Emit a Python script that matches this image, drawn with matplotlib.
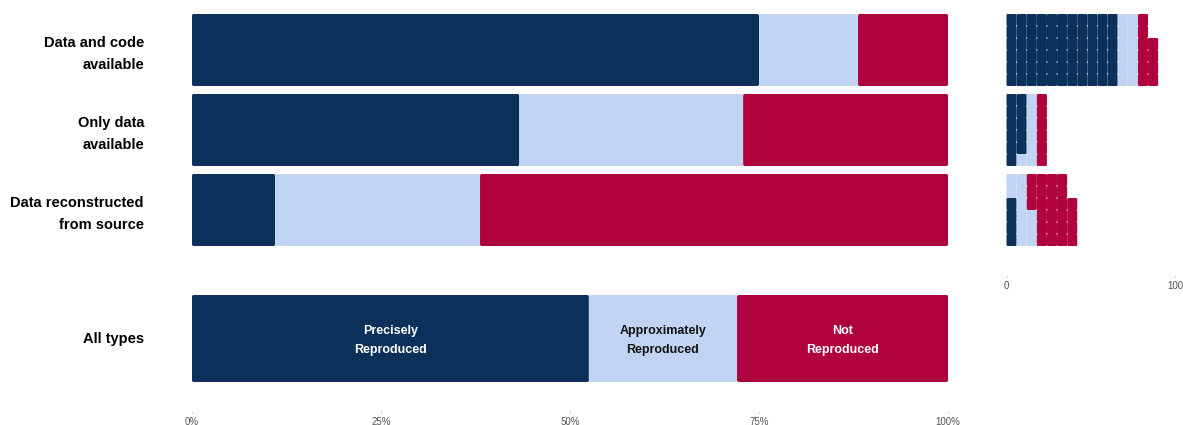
import matplotlib
matplotlib.use("Agg")
import matplotlib.pyplot as plt
from matplotlib.transforms import blended_transform_factory, ScaledTranslation

plt.rcParams['font.family'] = ['Liberation Sans', 'DejaVu Sans']

# ---------------- data ----------------
groups = ["Data and code\navailable", "Only data\navailable", "Data reconstructed\nfrom source"]
all_label = "All types"
categories = ["Precisely\nReproduced", "Approximately\nReproduced", "Not\nReproduced"]

precise_pct = [75.0, 43.3, 11.0]
approx_pct = [13.1, 29.6, 27.1]
not_pct = [11.9, 27.1, 61.9]

all_pct = [52.5, 19.6, 27.9]

# waffle columns (each string lists cells bottom -> top; P/A/N = category)
waffle_data_code = ["PPPPPP"] * 11 + ["AAAAAA"] * 2 + ["NNNNNN", "NNNN"]
waffle_only_data = ["PPPPPP", "APPPPP", "AAAAAA", "NNNNNN"]
waffle_reconstructed = ["PPPPAA", "AAAAAA", "AAANNN"] + ["NNNNNN"] * 3 + ["NNNN"]
waffle_groups = [waffle_data_code, waffle_only_data, waffle_reconstructed]

waffle_ticks = [0, 100]
pct_ticks = [0, 25, 50, 75, 100]

# ---------------- style ----------------
colors = {"P": "#0B315B", "A": "#C2D4F4", "N": "#B0023C"}
cat_keys = ["P", "A", "N"]
text_colors = {"P": "white", "A": "#111111", "N": "white"}

W, H = 1183, 425
DPI = 100
fig = plt.figure(figsize=(W / DPI, H / DPI), dpi=DPI)


def rect(x0, y0, x1, y1):
    return [x0 / W, 1 - y1 / H, (x1 - x0) / W, (y1 - y0) / H]


def clean(ax):
    for s in ax.spines.values():
        s.set_visible(False)
    ax.set_facecolor("none")


def row_label(ax, y, text, dy_px=0):
    tr = blended_transform_factory(ax.transAxes, ax.transData)
    tr = tr + ScaledTranslation(-48 / DPI, dy_px / DPI, fig.dpi_scale_trans)
    ax.text(0, y, text, transform=tr, ha='right', va='center', fontsize=10.5,
            fontweight='bold', color='black', linespacing=1.65)


LW_PX = 3.0
lw_pt = LW_PX * 72 / DPI

# ---- top bars (three groups)
ax_top = fig.add_axes(rect(192, 14, 948, 246))
clean(ax_top)
ax_top.set_xlim(0, 100)
ax_top.set_ylim(2.45, -0.45)
xpx = 756 / 100.0
ypx = 232 / 2.9
sx = LW_PX / xpx
sy = LW_PX / ypx
bar_h = 0.9
series = [precise_pct, approx_pct, not_pct]
for i in range(len(groups)):
    left = 0.0
    for k, vals in zip(cat_keys, series):
        v = vals[i]
        ax_top.barh(i, v - sx, left=left + sx / 2, height=bar_h - sy,
                    color=colors[k], edgecolor=colors[k], linewidth=lw_pt,
                    joinstyle='round', snap=False)
        left += v
    row_label(ax_top, i, groups[i], dy_px=-4)
ax_top.set_xticks([])
ax_top.set_yticks([])

# ---- all types bar
ax_all = fig.add_axes(rect(192, 295, 948, 411))
clean(ax_all)
ax_all.set_xlim(0, 100)
ax_all.set_ylim(-0.5 - 29 / 87, 0.5)
ypx2 = 87.0
sy2 = LW_PX / ypx2
left = 0.0
for k, v, lab in zip(cat_keys, all_pct, categories):
    ax_all.barh(0, v - sx, left=left + sx / 2, height=1 - sy2,
                color=colors[k], edgecolor=colors[k], linewidth=lw_pt,
                joinstyle='round', snap=False)
    ax_all.text(left + v / 2, -0.02, lab, ha='center', va='center', fontsize=9,
                fontweight='bold', color=text_colors[k], linespacing=1.75)
    left += v
row_label(ax_all, 0, all_label, dy_px=-1)
ax_all.set_yticks([])
ax_all.set_xticks(pct_ticks)
ax_all.set_xticklabels([f"{t}%" for t in pct_ticks])
ax_all.tick_params(axis='x', length=2.2, width=0.5, color='#cccccc',
                   labelsize=7, labelcolor='#555555', pad=2)

# ---- waffle
ax_w = fig.add_axes(rect(1006.5, 14, 1175, 275))
clean(ax_w)
ax_w.set_xlim(0, 100)
ax_w.set_ylim(2.45 + 29 / 80, -0.45)
wxpx = 168.5 / 100.0
wypx = 80.0
wlw = 2.2
wsx = wlw / wxpx
wsy = wlw / wypx
col_w = 6.0
row_h = 0.15
for g, cols in enumerate(waffle_groups):
    for c, col in enumerate(cols):
        for r, k in enumerate(col):
            ytop = g + 0.45 - row_h * (r + 1)
            ax_w.bar(col_w * c + col_w / 2, row_h - wsy, bottom=ytop + wsy / 2,
                     width=col_w - wsx, color=colors[k], edgecolor=colors[k],
                     linewidth=wlw * 72 / DPI, joinstyle='round', clip_on=False,
                     snap=False)
ax_w.set_yticks([])
ax_w.set_xticks(waffle_ticks)
ax_w.set_xticklabels([str(t) for t in waffle_ticks])
ax_w.tick_params(axis='x', length=2.2, width=0.5, color='#cccccc',
                 labelsize=7, labelcolor='#555555', pad=2)

fig.savefig("out.png", dpi=DPI)
